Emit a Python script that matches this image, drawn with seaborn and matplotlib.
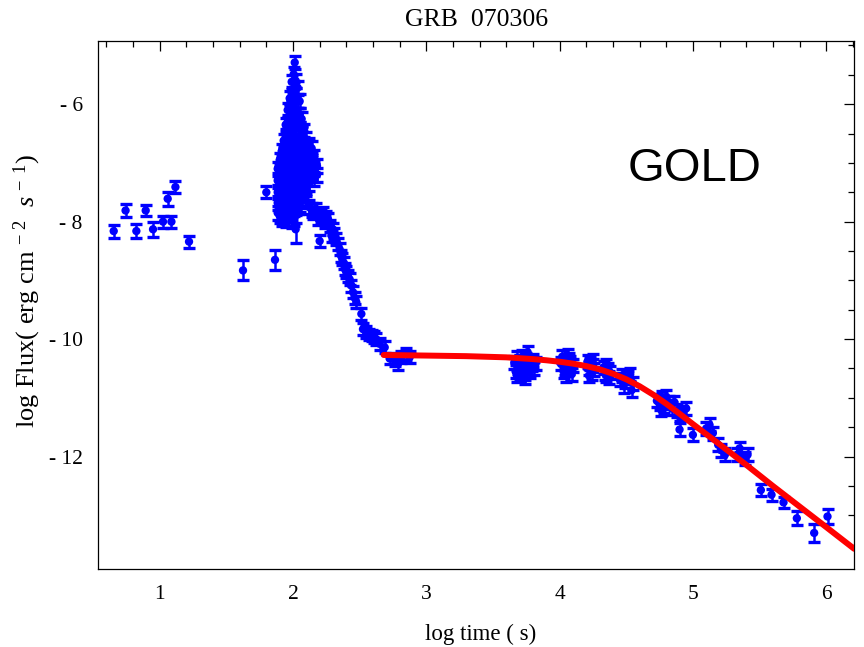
import numpy as np
import pandas as pd
import matplotlib
matplotlib.use("Agg")
import matplotlib.pyplot as plt
import seaborn as sns
from matplotlib.ticker import MultipleLocator, FuncFormatter

# ---------------- light-curve data (log t [s], log flux, 1-sigma) ----------------
early_t = [0.655, 0.744, 0.825, 0.895, 0.95, 1.025, 1.06, 1.088, 1.118, 1.22, 1.625, 1.80, 1.865]
early_f = [-8.16, -7.81, -8.16, -7.81, -8.13, -8.00, -7.61, -8.00, -7.41, -8.34, -8.83, -7.50, -8.65]
early_e = [0.11, 0.11, 0.12, 0.10, 0.13, 0.10, 0.12, 0.10, 0.10, 0.10, 0.17, 0.10, 0.17]

flare_t = [1.885] * 5 + [1.90] * 6 + [1.915] * 7 + [1.93] * 7 + [1.945] * 9 + [1.96] * 10 \
    + [1.975] * 10 + [1.99] * 12 + [2.005] * 12 + [2.013] + [2.02] * 12 + [2.035] * 10 \
    + [2.05] * 9 + [2.065] * 7 + [2.085] * 6 + [2.10] * 6 + [2.12] * 5 + [2.14] * 4 \
    + [2.16] * 3 + [2.18] * 2
flare_f = [
    -7.10, -7.30, -7.50, -7.68, -7.85,
    -6.95, -7.15, -7.35, -7.55, -7.72, -7.90,
    -6.80, -7.00, -7.22, -7.42, -7.62, -7.80, -7.96,
    -6.62, -6.85, -7.05, -7.28, -7.48, -7.70, -7.92,
    -6.35, -6.55, -6.78, -7.00, -7.20, -7.40, -7.60, -7.80, -7.97,
    -6.10, -6.30, -6.52, -6.75, -6.95, -7.15, -7.38, -7.58, -7.78, -7.95,
    -5.90, -6.12, -6.35, -6.58, -6.80, -7.02, -7.25, -7.45, -7.68, -7.88,
    -5.62, -5.82, -6.05, -6.28, -6.50, -6.72, -6.95, -7.18, -7.40, -7.62, -7.85, -7.98,
    -5.49, -5.75, -5.98, -6.20, -6.42, -6.65, -6.88, -7.10, -7.32, -7.55, -7.78, -7.95,
    -5.29,
    -5.60, -5.85, -6.08, -6.30, -6.55, -6.78, -7.00, -7.22, -7.45, -7.68, -7.90, -8.13,
    -5.72, -5.95, -6.18, -6.40, -6.62, -6.85, -7.08, -7.30, -7.52, -7.75,
    -5.95, -6.18, -6.42, -6.65, -6.88, -7.10, -7.32, -7.55, -7.72,
    -6.25, -6.50, -6.72, -6.95, -7.18, -7.40, -7.62,
    -6.46, -6.68, -6.90, -7.12, -7.35, -7.55,
    -6.60, -6.80, -7.02, -7.23, -7.45, -7.65,
    -6.70, -6.90, -7.10, -7.35, -7.75,
    -6.75, -6.95, -7.15, -7.80,
    -6.90, -7.10, -7.28,
    -7.05, -7.20,
]
flare_e = [0.12] * 5 + [0.12] * 6 + [0.12] * 7 + [0.12] * 7 + [0.12] * 9 + [0.12] * 10 \
    + [0.12] * 10 + [0.12] * 12 + [0.12] * 12 + [0.11] + [0.12] * 11 + [0.24] + [0.12] * 10 \
    + [0.12] * 9 + [0.12] * 7 + [0.12] * 6 + [0.12] * 6 + [0.12] * 5 + [0.12] * 4 \
    + [0.12] * 3 + [0.12] * 2

tail_t = [2.15, 2.17, 2.19, 2.20, 2.21, 2.225, 2.24, 2.25, 2.263, 2.275, 2.29, 2.30, 2.31,
          2.325, 2.335, 2.35, 2.36, 2.37, 2.38, 2.39, 2.40, 2.41, 2.425, 2.438, 2.45, 2.463,
          2.475, 2.513, 2.525, 2.55, 2.57, 2.59, 2.61, 2.625, 2.65, 2.688, 2.725, 2.763,
          2.788, 2.813, 2.85, 2.875]
tail_f = [-7.85, -7.78, -7.95, -8.33, -7.90, -7.85, -8.00, -7.92, -7.96, -8.07, -8.24, -8.13,
          -8.20, -8.30, -8.38, -8.47, -8.58, -8.64, -8.70, -8.81, -8.86, -8.92, -8.98, -9.09,
          -9.20, -9.30, -9.37, -9.57, -9.83, -9.88, -9.92, -9.94, -9.97, -10.00, -10.08,
          -10.14, -10.33, -10.36, -10.42, -10.31, -10.25, -10.31]
tail_e = [0.10] * 42

plateau_t = [3.66, 3.67, 3.68, 3.69, 3.70, 3.70, 3.71, 3.72, 3.72, 3.73, 3.74, 3.75, 3.75,
             3.76, 3.77, 3.78, 3.79, 3.80, 3.81, 3.82, 3.68, 3.74,
             4.01, 4.02, 4.03, 4.04, 4.05, 4.06, 4.07, 4.08, 4.09, 4.10, 4.04, 4.07,
             4.21, 4.22, 4.23, 4.24, 4.25, 4.26, 4.22, 4.25,
             4.33, 4.34, 4.35, 4.36, 4.37, 4.38, 4.35,
             4.45, 4.47, 4.49, 4.51, 4.53, 4.54, 4.55, 4.48]
plateau_f = [-10.40, -10.55, -10.32, -10.48, -10.60, -10.38, -10.45, -10.52, -10.30, -10.42,
             -10.58, -10.35, -10.48, -10.22, -10.40, -10.55, -10.44, -10.36, -10.50, -10.42,
             -10.62, -10.65,
             -10.42, -10.30, -10.55, -10.38, -10.62, -10.28, -10.48, -10.40, -10.60, -10.45,
             -10.50, -10.35,
             -10.38, -10.50, -10.42, -10.58, -10.45, -10.52, -10.62, -10.36,
             -10.48, -10.58, -10.62, -10.52, -10.66, -10.57, -10.44,
             -10.68, -10.62, -10.72, -10.65, -10.60, -10.87, -10.75, -10.80]
plateau_e = [0.11] * 57

decay_t = [4.73, 4.75, 4.76, 4.77, 4.78, 4.80, 4.82, 4.84, 4.86, 4.88, 4.90, 4.90, 4.92, 4.95,
           5.00, 5.10, 5.125, 5.15, 5.19, 5.21, 5.24, 5.33, 5.35, 5.39, 5.41,
           5.51, 5.59, 5.68, 5.78, 5.91, 6.01]
decay_f = [-11.05, -11.10, -11.20, -11.00, -11.15, -10.98, -11.08, -11.18, -11.07, -11.22,
           -11.29, -11.54, -11.25, -11.18, -11.63, -11.52, -11.46, -11.60, -11.80, -11.89,
           -11.97, -11.97, -11.86, -12.03, -11.97,
           -12.57, -12.65, -12.78, -13.05, -13.30, -13.02]
decay_e = [0.11] * 25 + [0.10, 0.10, 0.10, 0.12, 0.15, 0.12]

# best-fit afterglow curve
fit_t = [2.68, 3.0, 3.3, 3.6, 3.8, 3.9, 4.0, 4.1, 4.2, 4.3, 4.4, 4.5, 4.6, 4.7, 4.8, 4.9,
         5.0, 5.2, 5.4, 5.6, 5.8, 6.0, 6.21]
fit_f = [-10.27, -10.28, -10.29, -10.31, -10.34, -10.36, -10.385, -10.417, -10.459, -10.514,
         -10.589, -10.684, -10.802, -10.942, -11.10, -11.27, -11.446, -11.79, -12.14, -12.50,
         -12.85, -13.20, -13.57]

x_ticks = [1, 2, 3, 4, 5, 6]
y_ticks = [-6, -8, -10, -12]

df = pd.DataFrame({
    "t": early_t + flare_t + tail_t + plateau_t + decay_t,
    "flux": early_f + flare_f + tail_f + plateau_f + decay_f,
    "err": early_e + flare_e + tail_e + plateau_e + decay_e,
})
fit = pd.DataFrame({"t": fit_t, "flux": fit_f})

# ---------------- figure ----------------
sns.set_style("white")
plt.rcParams["font.family"] = ["Liberation Serif", "DejaVu Serif"]
plt.rcParams["mathtext.fontset"] = "custom"
plt.rcParams["mathtext.rm"] = "Liberation Serif"
plt.rcParams["mathtext.it"] = "Liberation Serif:italic"
for key in ("text.color", "axes.labelcolor", "xtick.color", "ytick.color",
            "axes.edgecolor"):
    plt.rcParams[key] = "black"

blue = "#0000ff"
fig = plt.figure(figsize=(8.64, 6.47), dpi=100)
ax = fig.add_axes([0.1134, 0.120, 0.8746, 0.817])

ax.errorbar(df["t"], df["flux"], yerr=df["err"], fmt="none", ecolor=blue,
            elinewidth=1.8, capsize=4, capthick=2.4, zorder=2)
sns.scatterplot(data=df, x="t", y="flux", color=blue, s=36, edgecolor="none",
                ax=ax, zorder=3, legend=False)
sns.lineplot(data=fit, x="t", y="flux", color="#ff0000", linewidth=4.3, ax=ax,
             zorder=4, sort=False)

ax.set_xlim(0.537, 6.206)
ax.set_ylim(-13.92, -4.92)
ax.set_xticks(x_ticks)
ax.set_yticks(y_ticks)
ax.xaxis.set_minor_locator(MultipleLocator(0.2))
ax.yaxis.set_minor_locator(MultipleLocator(0.5))
ax.yaxis.set_major_formatter(FuncFormatter(lambda v, p: f"- {abs(v):g}"))
ax.tick_params(which="both", direction="in", top=True, right=True,
               labeltop=False, labelright=False, color="black", width=0.9)
ax.tick_params(which="major", length=7.5, labelsize=15.5, pad=11)
ax.tick_params(which="minor", length=4)
for s in ax.spines.values():
    s.set_color("black")
    s.set_linewidth(0.9)

ax.set_xlabel("")
ax.set_ylabel("")
fig.text(0.556, 0.020, "log time ( s)", ha="center", va="center", fontsize=16.5)
fig.text(0.032, 0.55, r"log Flux( erg cm $^{-\ 2}$  $s^{\,-\ 1}$)", ha="center",
         va="center", rotation=90, fontsize=19)
fig.text(0.551, 0.969, "GRB  070306", ha="center", va="center", fontsize=18.5)
ax.text(5.013, -7.10, "GOLD", ha="center", va="center", fontsize=34, color="black",
        family=["Liberation Sans", "DejaVu Sans"])

fig.savefig("out.png", dpi=100)
